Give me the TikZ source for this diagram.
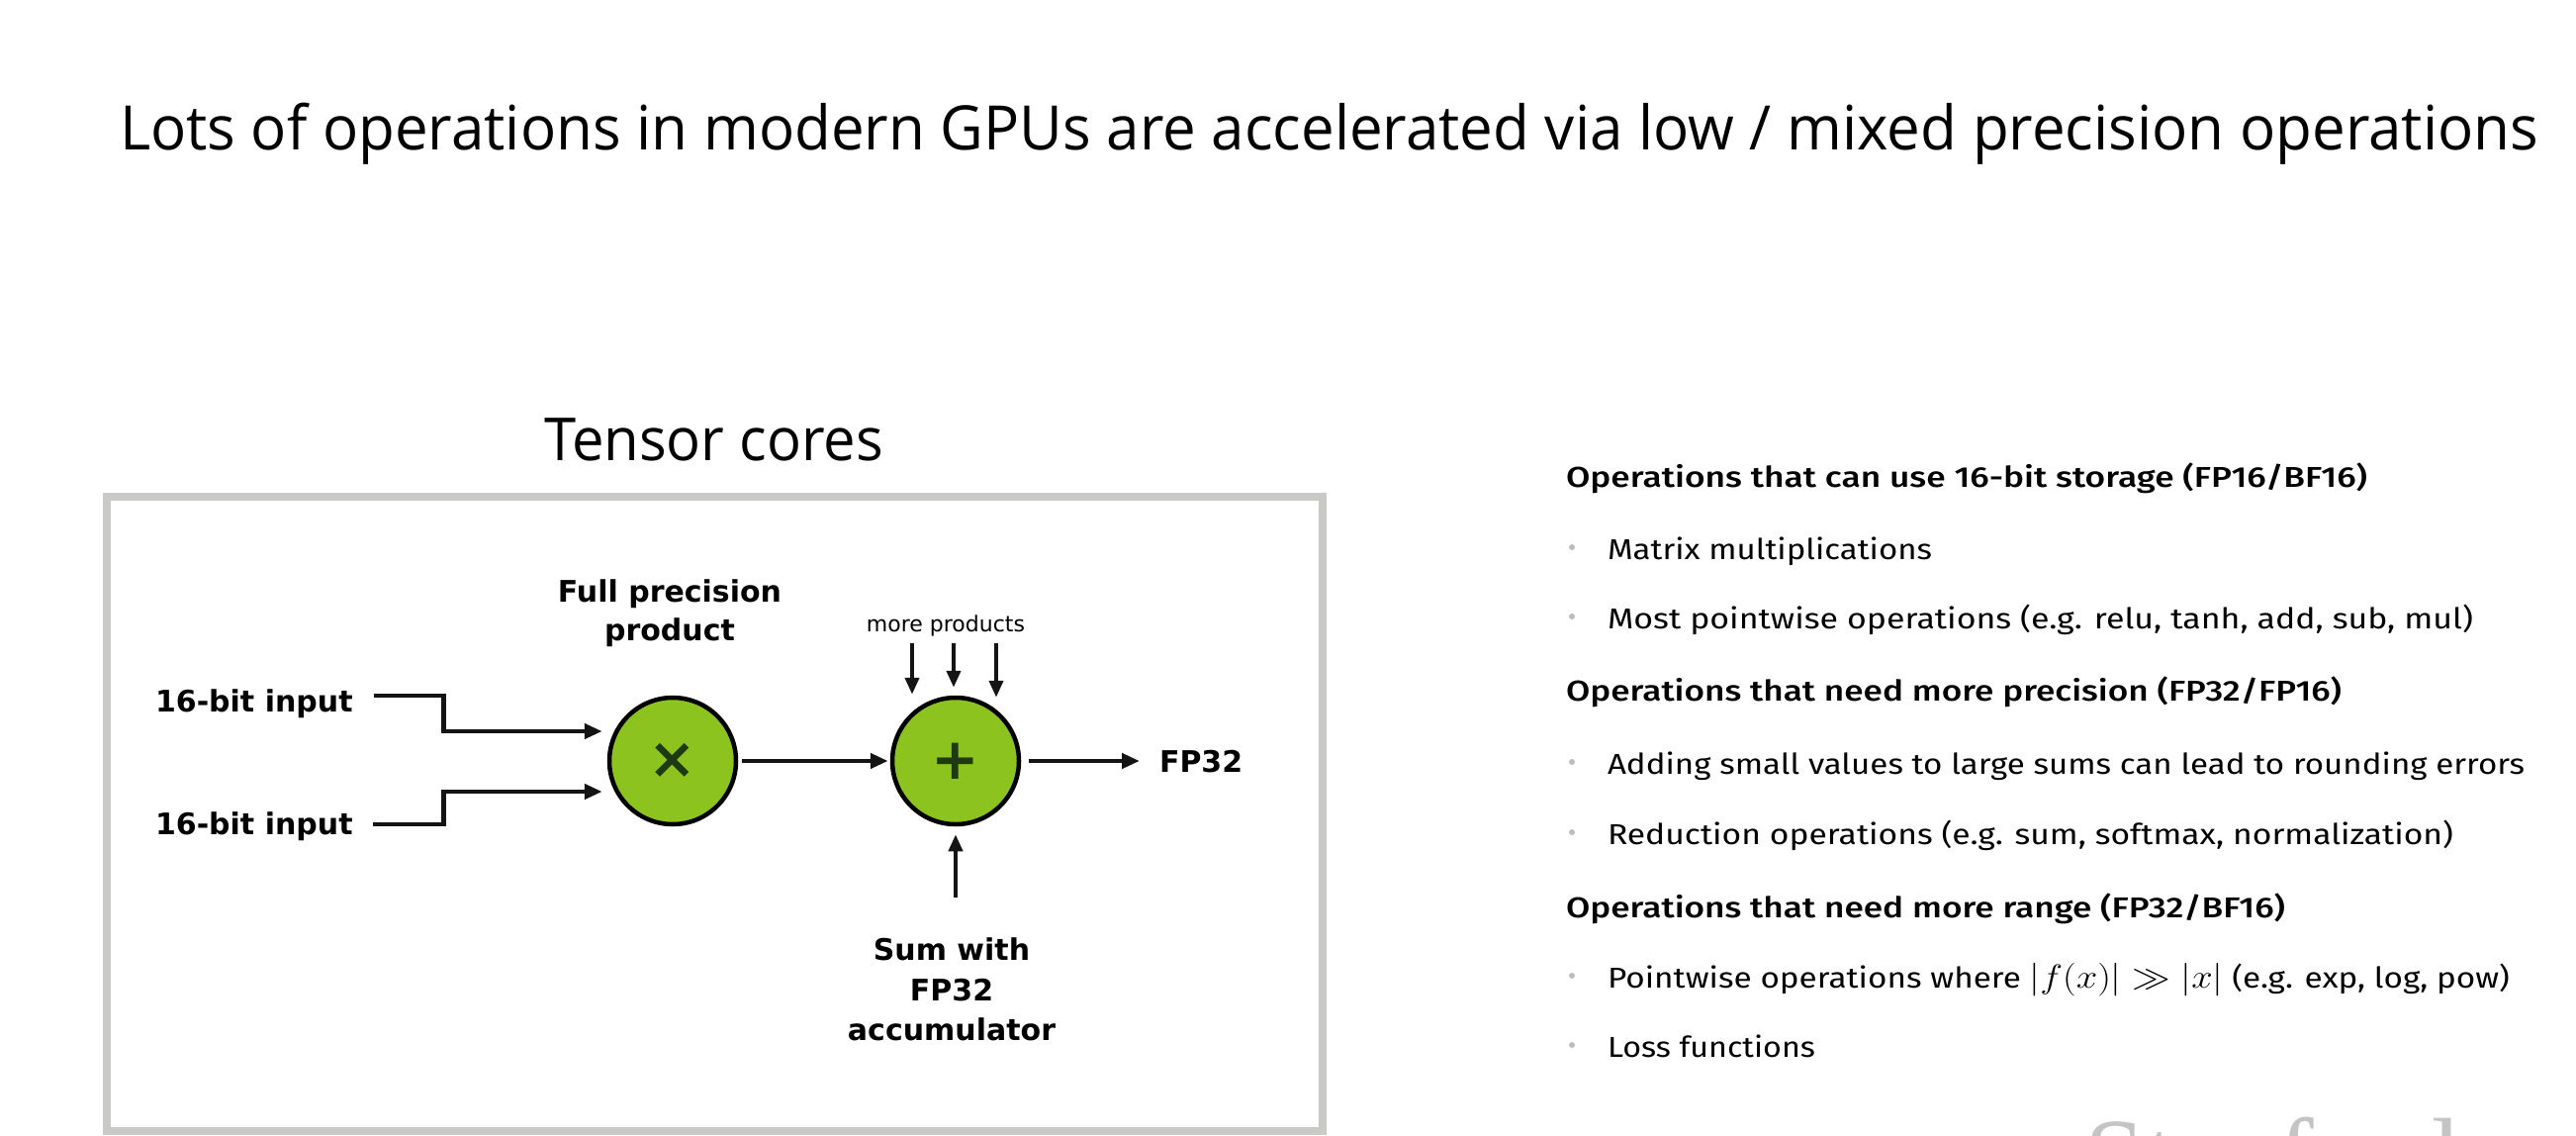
\documentclass[tikz,border=0pt]{standalone}
\usepackage{fontspec}
\usepackage{graphicx}
\usetikzlibrary{arrows.meta,calc}
\newfontfamily\titlefont{Open Sans}
\newfontfamily\diagfont{DejaVu Sans}
\newfontfamily\listfont{Fira Sans}
\IfFontExistsTF{Fira Sans Medium}{\newfontfamily\listhead{Fira Sans Medium}}{\newfontfamily\listhead{Fira Sans}[UprightFont=*-Bold]}
\newfontfamily\wmfont{Liberation Serif}
\definecolor{nvgreen}{HTML}{8CC31F}
\definecolor{symgreen}{HTML}{1E3A10}
\definecolor{framegray}{HTML}{C9C9C5}
\definecolor{bulletgray}{HTML}{BDBDBD}
\definecolor{wmgray}{HTML}{C4C4C4}
\newcommand{\fitw}[2]{\resizebox{#1pt}{\height}{#2}}
\tikzset{
  txt/.style={inner sep=0pt, outer sep=0pt, anchor=base west},
  wire/.style={line width=4.5pt, draw=black!92, -{Triangle[length=18pt,width=15pt]}},
  wiretwo/.style={line width=4pt, draw=black!92, -{Triangle[length=17pt,width=14pt]}},
  op/.style={circle, draw=black, line width=4.5pt, fill=nvgreen, minimum size=128pt, inner sep=0pt, text=symgreen, font=\diagfont\bfseries\fontsize{58}{58}\selectfont},
  lbl/.style={inner sep=0pt, outer sep=0pt, align=center, font=\diagfont\bfseries\fontsize{30}{39}\selectfont},
  head/.style={txt, font=\listhead\fontsize{29}{29}\selectfont},
  item/.style={txt, font=\listfont\fontsize{29}{29}\selectfont},
  dot/.style={circle, fill=bulletgray, inner sep=0pt, minimum size=6pt}
}
\begin{document}
\begin{tikzpicture}[x=1pt,y=-1pt]
\useasboundingbox (0,0) rectangle (2604,1148);
\fill[white] (0,0) rectangle (2604,1148);

% title
\node[txt, font=\titlefont\fontsize{62}{62}\selectfont] (title) at (121,151)
  {\fitw{2445}{Lots of operations in modern GPUs are accelerated via low / mixed precision operations}};
\node[txt, font=\titlefont\fontsize{60}{60}\selectfont] (tc) at (550,465) {\fitw{343}{Tensor cores}};

% frame
\node[draw=framegray, line width=8pt, fill=white, minimum width=1229pt, minimum height=641pt, inner sep=0pt] (frame) at (722.5,822.5) {};

% operators
\node[op] (mul) at (680,769) {×};
\node[op] (add) at (966,769) {+};

% labels
\node[lbl, anchor=base west] (in1) at (157,719) {16-bit input};
\node[lbl, anchor=base west] (in2) at (157,843) {16-bit input};
\node[lbl, anchor=north] (fpp) at (677,586) {Full precision\\product};
\node[lbl, anchor=base west] (fp) at (1172,780) {FP32};
\node[lbl, anchor=north, font=\diagfont\bfseries\fontsize{30}{40.5}\selectfont] (sum) at (962,948) {Sum with\\FP32\\accumulator};
\node[inner sep=0pt, anchor=base, font=\diagfont\fontsize{22}{22}\selectfont] (mp) at (956,638) {more products};

% connectors
\coordinate (s1) at ($(in1.base east)+(21,-16)$);
\coordinate (s2) at ($(in2.base east)+(20,-10)$);
\draw[wire] (s1) -- ++(71,0) |- ($(mul.west)+(-5,-30)$);
\draw[wire] (s2) -- ++(72,0) |- ($(mul.west)+(-5,31)$);
\draw[wire] ($(mul.east)+(4,0)$) -- ($(add.west)+(-2,0)$);
\draw[wire] ($(add.east)+(8,0)$) -- ($(add.east -| fp.west)+(-20,0)$);
\draw[wiretwo] ($(mp.base)+(-34,12)$) -- ($(add.north)+(-44,-1)$);
\draw[wiretwo] ($(mp.base)+(8,12)$) -- ($(add.north)+(-2,-8)$);
\draw[wiretwo] ($(mp.base)+(51,12)$) -- ($(add.north)+(41,2)$);
\draw[wiretwo] ($(sum.north -| add.south)+(0,-41)$) -- ($(add.south)+(0,8)$);

% right column
\node[head] (h1) at (1583,492) {\fitw{810}{Operations that can use 16-bit storage (FP16/BF16)}};
\node[dot] (d1) at (1589,553) {};
\node[item] (b1) at (1625,565) {\fitw{328}{Matrix multiplications}};
\node[dot] (d2) at (1589,623) {};
\node[item] (b2) at (1625,635) {\fitw{875}{Most pointwise operations (e.g. relu, tanh, add, sub, mul)}};
\node[head] (h2) at (1583,708) {\fitw{784}{Operations that need more precision (FP32/FP16)}};
\node[dot] (d3) at (1589,770) {};
\node[item] (b3) at (1625,782) {\fitw{927}{Adding small values to large sums can lead to rounding errors}};
\node[dot] (d4) at (1589,841) {};
\node[item] (b4) at (1625,853) {\fitw{855}{Reduction operations (e.g. sum, softmax, normalization)}};
\node[head] (h3) at (1583,927) {\fitw{727}{Operations that need more range (FP32/BF16)}};
\node[dot] (d5) at (1589,986) {};
\node[item] (b5) at (1625,998) {\fitw{912}{Pointwise operations where \scalebox{1.35}{$|f(x)| \gg |x|$} (e.g. exp, log, pow)}};
\node[dot] (d6) at (1589,1056) {};
\node[item] (b6) at (1625,1068) {\fitw{210}{Loss functions}};

% watermark (cut off at bottom)
\begin{scope}
\clip (0,0) rectangle (2604,1148);
\node[txt, font=\wmfont\fontsize{110}{110}\selectfont, text=wmgray] (wm) at (2107,1206) {Stanford};
\end{scope}
\end{tikzpicture}
\end{document}
